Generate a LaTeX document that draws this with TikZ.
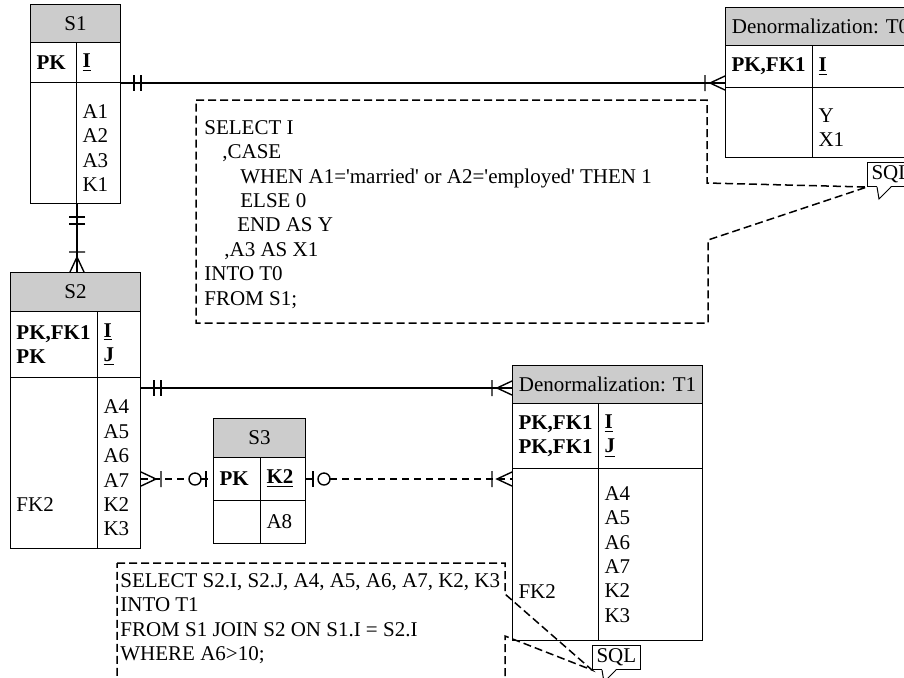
\documentclass[tikz,border=0pt]{standalone}
\usepackage{fontspec}
\setmainfont{Liberation Serif}
\usepackage{tikz}
\usetikzlibrary{calc}
\newcommand{\toppad}{\rule{0pt}{12pt}}

\begin{document}
\begin{tikzpicture}[x=0.5pt,y=-0.5pt,font=\fontsize{10.5}{12.2}\selectfont,
 hd/.style={draw,line width=0.5pt,fill=black!20,anchor=north west,inner sep=0pt,align=center},
 cl/.style={draw,line width=0.5pt,anchor=north west,inner xsep=3pt,inner ysep=0pt,align=left},
 rel/.style={line width=0.7pt},
 opt/.style={rel,dash pattern=on 3.5pt off 2.5pt},
 call/.style={line width=0.75pt,dash pattern=on 4pt off 2pt},
 bub/.style={draw,line width=0.5pt,fill=white,anchor=south west,inner xsep=2pt,inner ysep=0pt,minimum height=12pt},
 sql/.style={anchor=north west,inner sep=0pt,align=left},
 mone/.pic={\draw[rel] (13,-8) -- (13,8) (20,-8) -- (20,8);},
 mmany/.pic={\draw[rel] (20,-8) -- (20,8) (0,-7) -- (15,0) -- (0,7);},
 zone/.pic={\draw[rel] (7,-8) -- (7,8); \draw[rel,fill=white] (18,0) circle[radius=6];}]
\useasboundingbox (0,0) rectangle (904,677);
\clip (0,0) rectangle (904,677);
% S1
\node[hd,minimum width=45pt,minimum height=19pt] (s1) at (30,4) {S1};
\node[cl,text width=17pt,minimum height=20pt] (s1k) at (30,42) {\textbf{PK}};
\node[cl,text width=16pt,minimum height=20pt] (s1kk) at (76,42) {\textbf{\underline{I}}};
\node[cl,text width=17pt,minimum height=60.5pt] (s1a) at (30,82) {};
\node[cl,text width=16pt,minimum height=60.5pt] (s1aa) at (76,82) {\toppad A1\\A2\\A3\\K1};
% S2
\node[hd,minimum width=65pt,minimum height=19.5pt] (s2) at (10,272) {S2};
\node[cl,text width=37.5pt,minimum height=33pt] (s2k) at (10,311) {\textbf{PK,FK1}\\\textbf{PK}};
\node[cl,text width=15.5pt,minimum height=33pt] (s2kk) at (97,311) {\textbf{\underline{I}}\\\textbf{\underline{J}}};
\node[cl,text width=37.5pt,minimum height=85.5pt] (s2a) at (10,377) {\toppad\\\mbox{}\\\mbox{}\\\mbox{}\\FK2\\\mbox{}};
\node[cl,text width=15.5pt,minimum height=85.5pt] (s2aa) at (97,377) {\toppad A4\\A5\\A6\\A7\\K2\\K3};
% S3
\node[hd,minimum width=46pt,minimum height=19.5pt] (s3) at (213,418) {S3};
\node[cl,text width=17.5pt,minimum height=21.5pt] (s3k) at (213,457) {\textbf{PK}};
\node[cl,text width=16.5pt,minimum height=21.5pt] (s3kk) at (260,457) {\textbf{\underline{K2}}};
\node[cl,text width=17.5pt,minimum height=21.5pt] (s3a) at (213,500) {};
\node[cl,text width=16.5pt,minimum height=21.5pt] (s3aa) at (260,500) {A8};
% T0
\node[hd,minimum width=95pt,minimum height=19pt] (t0) at (725,7) {Denormalization: T0};
\node[cl,text width=37.5pt,minimum height=21pt] (t0k) at (725,45) {\textbf{PK,FK1}};
\node[cl,text width=45.5pt,minimum height=21pt] (t0kk) at (812,45) {\textbf{\underline{I}}};
\node[cl,text width=37.5pt,minimum height=35pt] (t0a) at (725,87) {};
\node[cl,text width=45.5pt,minimum height=35pt] (t0aa) at (812,87) {\toppad Y\\X1};
% T1
\node[hd,minimum width=95pt,minimum height=19pt] (t1) at (512,365) {Denormalization: T1};
\node[cl,text width=37pt,minimum height=32.5pt] (t1k) at (512,403) {\textbf{PK,FK1}\\\textbf{PK,FK1}};
\node[cl,text width=46pt,minimum height=32.5pt] (t1kk) at (598,403) {\textbf{\underline{I}}\\\textbf{\underline{J}}};
\node[cl,text width=37pt,minimum height=86pt] (t1a) at (512,468) {\vphantom{A4}\\\mbox{}\\\mbox{}\\\mbox{}\\FK2\\\mbox{}};
\node[cl,text width=46pt,minimum height=86pt] (t1aa) at (598,468) {A4\\A5\\A6\\A7\\K2\\K3};
% relationships
\draw[rel] (s1kk.south east) -- (t0k.west |- s1kk.south east);
\pic at (s1kk.south east) {mone};
\pic[rotate=180] at (t0k.west |- s1kk.south east) {mmany};
\draw[rel] (s1a.south east) -- (s1a.south east |- s2.north);
\pic[rotate=-90] at (s1a.south east) {mone};
\pic[rotate=90] at (s1a.south east |- s2.north) {mmany};
\coordinate (c2) at ($(s2kk.south east)+(0,10)$);
\draw[rel] (c2) -- (t1.west |- c2);
\pic at (c2) {mone};
\pic[rotate=180] at (t1.west |- c2) {mmany};
\draw[opt] (s2aa.east |- s3k.west) -- (s3k.west);
\pic at (s2aa.east |- s3k.west) {mmany};
\pic[rotate=180] at (s3k.west) {zone};
\draw[opt] (s3kk.east) -- (t1a.west |- s3kk.east);
\pic at (s3kk.east) {zone};
\pic[rotate=180] at (t1a.west |- s3kk.east) {mmany};
% SQL notes
\coordinate (tip0) at (867,187);
\coordinate (tip1) at (592,670);
\draw[call] (196,100) -- (707,100) -- (707,183) -- (tip0) -- (708,240) -- (708,323) -- (196,323) -- cycle;
\draw[call] (117,563) -- (505,563) -- (505,594) -- (tip1) -- (505,636) -- (505,700) -- (117,700) -- cycle;
\node[bub] (sql0) at (tip0) {SQL};
\node[bub] (sql1) at (tip1) {SQL};
\fill[white] ($(sql0.south west)+(10,-1)$) -- ($(sql0.south west)+(12,12)$) -- ($(sql0.south west)+(24,-1)$) -- cycle;
\draw[line width=0.5pt] ($(sql0.south west)+(10,0)$) -- ++(2,12) -- ($(sql0.south west)+(24,0)$);
\fill[white] ($(sql1.south west)+(10,-1)$) -- ($(sql1.south west)+(12,12)$) -- ($(sql1.south west)+(24,-1)$) -- cycle;
\draw[line width=0.5pt] ($(sql1.south west)+(10,0)$) -- ++(2,12) -- ($(sql1.south west)+(24,0)$);
\node[sql] (q0) at (204,120) {SELECT I\\
 \hspace*{9pt},CASE\\
 \hspace*{18pt}WHEN A1=\textquotesingle married\textquotesingle{} or A2=\textquotesingle employed\textquotesingle{} THEN 1\\
 \hspace*{18pt}ELSE 0\\
 \hspace*{16.5pt}END AS Y\\
 \hspace*{10pt},A3 AS X1\\
 INTO T0\\
 FROM S1;};
\node[sql] (q1) at (120,573) {SELECT S2.I, S2.J, A4, A5, A6, A7, K2, K3\\
 INTO T1\\
 FROM S1 JOIN S2 ON S1.I = S2.I\\
 WHERE A6>10;};
\end{tikzpicture}
\end{document}
